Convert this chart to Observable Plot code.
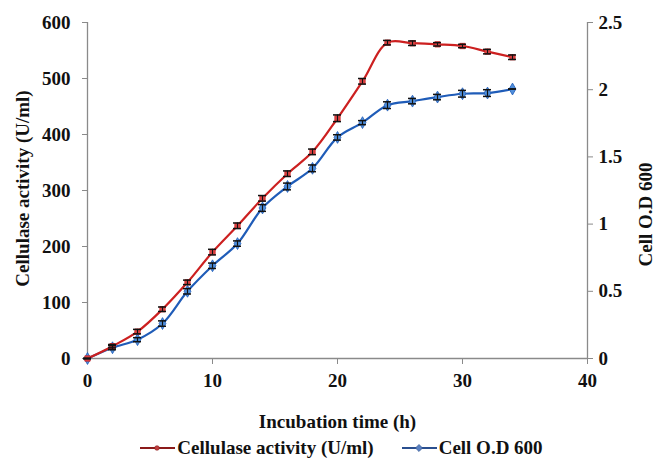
<!DOCTYPE html>
<html>
<head>
<meta charset="utf-8">
<script src="https://cdn.jsdelivr.net/npm/d3@7"></script>
<script src="https://cdn.jsdelivr.net/npm/@observablehq/plot@0.6"></script>
<style>
  html, body { margin: 0; padding: 0; background: #fff; }
  #chart { width: 655px; height: 462px; position: relative; overflow: hidden; }
  #legend { position: absolute; left: 0; top: 434px; width: 655px; height: 28px;
    display: flex; align-items: center; justify-content: center; padding-left: 28px; box-sizing: border-box;
    font-family: "Liberation Serif", serif; font-weight: bold; font-size: 19px; color: #111; }
  .item { display: flex; align-items: center; margin: 0 14px; white-space: nowrap; }
  .item svg { margin-right: 2px; }
</style>
</head>
<body>
<div id="chart"></div>
<script>
// Data
const hours = [0, 2, 4, 6, 8, 10, 12, 14, 16, 18, 20, 22, 24, 26, 28, 30, 32, 34];
const cellulase = [0, 22, 48, 88, 136, 190, 237, 286, 330, 369, 429, 495, 564, 563, 561, 558, 548, 538];
const cellulaseErr = [0, 3, 4, 4, 4, 5, 5, 5, 5, 5, 6, 5, 4, 4, 3, 3, 4, 4];
const cellOD = [0, 0.08, 0.14, 0.26, 0.5, 0.69, 0.855, 1.12, 1.28, 1.415, 1.645, 1.755, 1.885, 1.915, 1.945, 1.97, 1.975, 2.005];
const cellODErr = [0, 0.015, 0.015, 0.02, 0.02, 0.02, 0.02, 0.025, 0.025, 0.025, 0.02, 0.015, 0.025, 0.02, 0.02, 0.025, 0.025, 0];
const xTicks = [0, 10, 20, 30, 40];
const leftTicks = [0, 100, 200, 300, 400, 500, 600];
const rightTicks = [0, 0.5, 1, 1.5, 2, 2.5];

const leftMax = 600, rightMax = 2.5;
const k = leftMax / rightMax; // right axis values mapped onto the left scale

const red = "#cc2020", redMark = "#e04848";
const blue = "#1f5cb8", blueMark = "#4f8fdc";
const axisColor = "#8a8a8a";

const enzyme = hours.map((t, i) => ({t, v: cellulase[i], e: cellulaseErr[i]}));
const od = hours.map((t, i) => ({t, v: cellOD[i] * k, e: cellODErr[i] * k}));
const cap = 0.32;

const plot = Plot.plot({
  width: 655,
  height: 434,
  marginLeft: 87,
  marginRight: 68,
  marginTop: 22,
  marginBottom: 76,
  style: {fontFamily: "Liberation Serif, serif", fontSize: "19px", fontWeight: "bold", color: "#111", background: "#fff"},
  x: {domain: [0, 40]},
  y: {domain: [0, leftMax]},
  marks: [
    Plot.ruleY([0], {stroke: axisColor, strokeWidth: 1.3}),
    Plot.ruleX([0], {stroke: axisColor, strokeWidth: 1.3}),
    Plot.ruleX([40], {stroke: axisColor, strokeWidth: 1.3}),
    Plot.axisX({ticks: xTicks, tickSize: 6, tickPadding: 9, stroke: axisColor, label: null, fill: "#111"}),
    Plot.axisY({ticks: leftTicks, tickSize: 5, tickPadding: 12, stroke: axisColor, label: null, fill: "#111"}),
    Plot.axisY({anchor: "right", ticks: rightTicks.map(d => d * k), tickFormat: d => String(+(d / k).toFixed(2)),
      tickSize: 5, tickPadding: 6, stroke: axisColor, label: null, fill: "#111"}),
    Plot.line(od, {x: "t", y: "v", stroke: blue, strokeWidth: 2.2, curve: "catmull-rom"}),
    Plot.line(enzyme, {x: "t", y: "v", stroke: red, strokeWidth: 2.2, curve: "catmull-rom"}),
    Plot.dot(od, {x: "t", y: "v", symbol: "diamond", r: 3.6, fill: blueMark, stroke: blue, strokeWidth: 0.8}),
    Plot.dot(enzyme, {x: "t", y: "v", symbol: "square", r: 3, fill: redMark, stroke: red, strokeWidth: 0.8}),
    // error bars
    Plot.ruleX(enzyme, {x: "t", y1: d => d.v - d.e, y2: d => d.v + d.e, stroke: "#111", strokeWidth: 1.2}),
    Plot.ruleY(enzyme, {y: d => d.v - d.e, x1: d => d.t - cap, x2: d => d.t + cap, stroke: "#111", strokeWidth: 1.5}),
    Plot.ruleY(enzyme, {y: d => d.v + d.e, x1: d => d.t - cap, x2: d => d.t + cap, stroke: "#111", strokeWidth: 1.5}),
    Plot.ruleX(od, {x: "t", y1: d => d.v - d.e, y2: d => d.v + d.e, stroke: "#111", strokeWidth: 1.2}),
    Plot.ruleY(od, {y: d => d.v - d.e, x1: d => d.t - cap, x2: d => d.t + cap, stroke: "#111", strokeWidth: 1.5}),
    Plot.ruleY(od, {y: d => d.v + d.e, x1: d => d.t - cap, x2: d => d.t + cap, stroke: "#111", strokeWidth: 1.5}),
    // axis titles
    Plot.text(["Incubation time (h)"], {frameAnchor: "bottom", dy: 63, lineAnchor: "middle", textAnchor: "middle", fill: "#111", fontSize: 19}),
    Plot.text(["Cellulase activity (U/ml)"], {frameAnchor: "left", dx: -65, dy: -2, rotate: -90, textAnchor: "middle", lineAnchor: "middle", fill: "#111", fontSize: 19}),
    Plot.text(["Cell O.D 600"], {frameAnchor: "right", dx: 58, dy: 24, rotate: -90, textAnchor: "middle", lineAnchor: "middle", fill: "#111", fontSize: 19})
  ]
});
const chart = document.getElementById("chart");
chart.appendChild(plot);

const legend = document.createElement("div");
legend.id = "legend";
function item(label, color, markColor, shape) {
  const el = document.createElement("div");
  el.className = "item";
  const marker = shape === "diamond"
    ? `<rect x="14.5" y="2.5" width="5" height="5" transform="rotate(45 17 5)" fill="${markColor}" stroke="${color}" stroke-width="0.6"/>`
    : `<circle cx="17" cy="5" r="2.3" fill="${markColor}" stroke="${color}" stroke-width="0.6"/>`;
  el.innerHTML = `<svg width="35" height="10"><line x1="0" y1="5" x2="35" y2="5" stroke="${color}" stroke-width="2.2"/>${marker}</svg><span>${label}</span>`;
  return el;
}
legend.appendChild(item("Cellulase activity (U/ml)", "#8b1a1a", "#c04040", "circle"));
legend.appendChild(item("Cell O.D 600", "#2a4f8f", "#5a80c0", "diamond"));
chart.appendChild(legend);
</script>
</body>
</html>
